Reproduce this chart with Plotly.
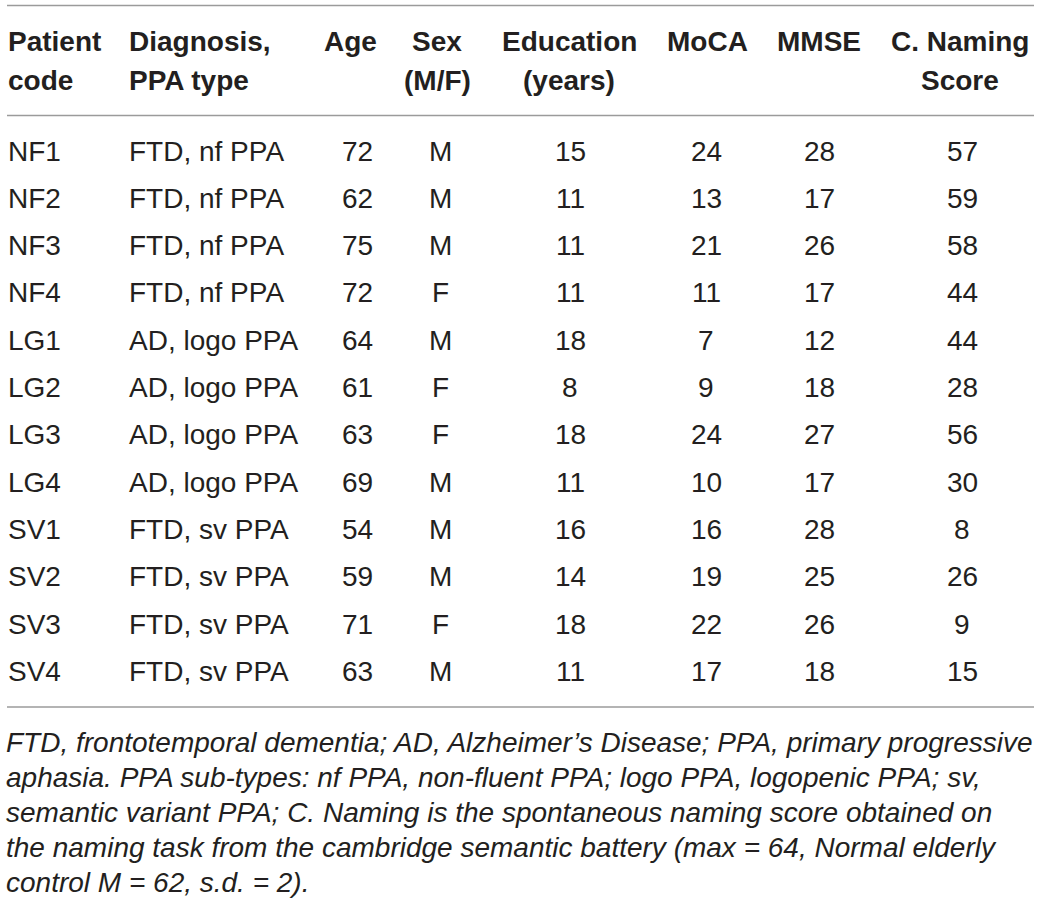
import plotly.graph_objects as go

# ---------------- data ----------------
patient_code = ["NF1", "NF2", "NF3", "NF4", "LG1", "LG2", "LG3", "LG4",
                "SV1", "SV2", "SV3", "SV4"]
diagnosis = ["FTD, nf PPA", "FTD, nf PPA", "FTD, nf PPA", "FTD, nf PPA",
             "AD, logo PPA", "AD, logo PPA", "AD, logo PPA", "AD, logo PPA",
             "FTD, sv PPA", "FTD, sv PPA", "FTD, sv PPA", "FTD, sv PPA"]
age = [72, 62, 75, 72, 64, 61, 63, 69, 54, 59, 71, 63]
sex = ["M", "M", "M", "F", "M", "F", "F", "M", "M", "M", "F", "M"]
education = [15, 11, 11, 11, 18, 8, 18, 11, 16, 14, 18, 11]
moca = [24, 13, 21, 11, 7, 9, 24, 10, 16, 19, 22, 17]
mmse = [28, 17, 26, 17, 12, 18, 27, 17, 28, 25, 26, 18]
naming = [57, 59, 58, 44, 44, 28, 56, 30, 8, 26, 9, 15]

header_line1 = ["Patient", "Diagnosis,", "Age", "Sex", "Education", "MoCA", "MMSE", "C. Naming"]
header_line2 = ["code", "PPA type", "", "(M/F)", "(years)", "", "", "Score"]

footnote_lines = [
    "FTD, frontotemporal dementia; AD, Alzheimer\u2019s Disease; PPA, primary progressive",
    "aphasia. PPA sub-types: nf PPA, non-fluent PPA; logo PPA, logopenic PPA; sv,",
    "semantic variant PPA; C. Naming is the spontaneous naming score obtained on",
    "the naming task from the cambridge semantic battery (max = 64, Normal elderly",
    "control M = 62, s.d. = 2).",
]

# ---------------- layout constants ----------------
W, H = 1041, 905
FONT = "Liberation Sans, Arial, Helvetica, sans-serif"
TXT = "#231f20"
RULE = "#9b9b9b"
FS = 28

columns = [patient_code, diagnosis, age, sex, education, moca, mmse, naming]
col_x = [6, 127, 357, 440, 570, 706, 819, 962]          # data cell anchor x
col_anchor = ["left", "left", "center", "center", "center", "center", "center", "center"]
head_x = [6, 127, 350, 437, 569, 707, 819, 960]
head_anchor = ["left", "left", "center", "center", "center", "center", "center", "center"]

row_y0, row_step = 151, 47.3
head_y1, head_y2 = 41, 80
foot_y0, foot_step = 742, 35.2

fig = go.Figure()
fig.add_trace(go.Scatter(x=[0, W], y=[0, H], mode="markers",
                         marker=dict(opacity=0), hoverinfo="skip", showlegend=False))

ann = []
for c, (h1, h2) in enumerate(zip(header_line1, header_line2)):
    for txt, yy in ((h1, head_y1), (h2, head_y2)):
        if txt:
            ann.append(dict(x=head_x[c], y=yy, text="<b>%s</b>" % txt, xref="x", yref="y",
                            xanchor=head_anchor[c], yanchor="middle", showarrow=False,
                            font=dict(family=FONT, size=FS, color=TXT)))

for c, col in enumerate(columns):
    for r, v in enumerate(col):
        ann.append(dict(x=col_x[c], y=row_y0 + r * row_step, text=str(v), xref="x", yref="y",
                        xanchor=col_anchor[c], yanchor="middle", showarrow=False,
                        font=dict(family=FONT, size=FS, color=TXT)))

for i, line in enumerate(footnote_lines):
    ann.append(dict(x=4, y=foot_y0 + i * foot_step, text="<i>%s</i>" % line, xref="x", yref="y",
                    xanchor="left", yanchor="middle", showarrow=False,
                    font=dict(family=FONT, size=FS, color=TXT)))

shapes = []
for yy in (5.5, 115.5, 707):
    shapes.append(dict(type="line", xref="x", yref="y", x0=7, x1=1034, y0=yy, y1=yy,
                       line=dict(color=RULE, width=1.5)))

fig.update_layout(
    width=W, height=H,
    margin=dict(l=0, r=0, t=0, b=0),
    paper_bgcolor="white", plot_bgcolor="white",
    xaxis=dict(range=[0, W], visible=False, fixedrange=True),
    yaxis=dict(range=[H, 0], visible=False, fixedrange=True),
    annotations=ann, shapes=shapes,
    hovermode=False,
)
fig.write_html("out.html",
               config={"displayModeBar": False, "staticPlot": True},
               post_script="document.body.style.margin='0px';document.body.style.overflow='hidden';")
